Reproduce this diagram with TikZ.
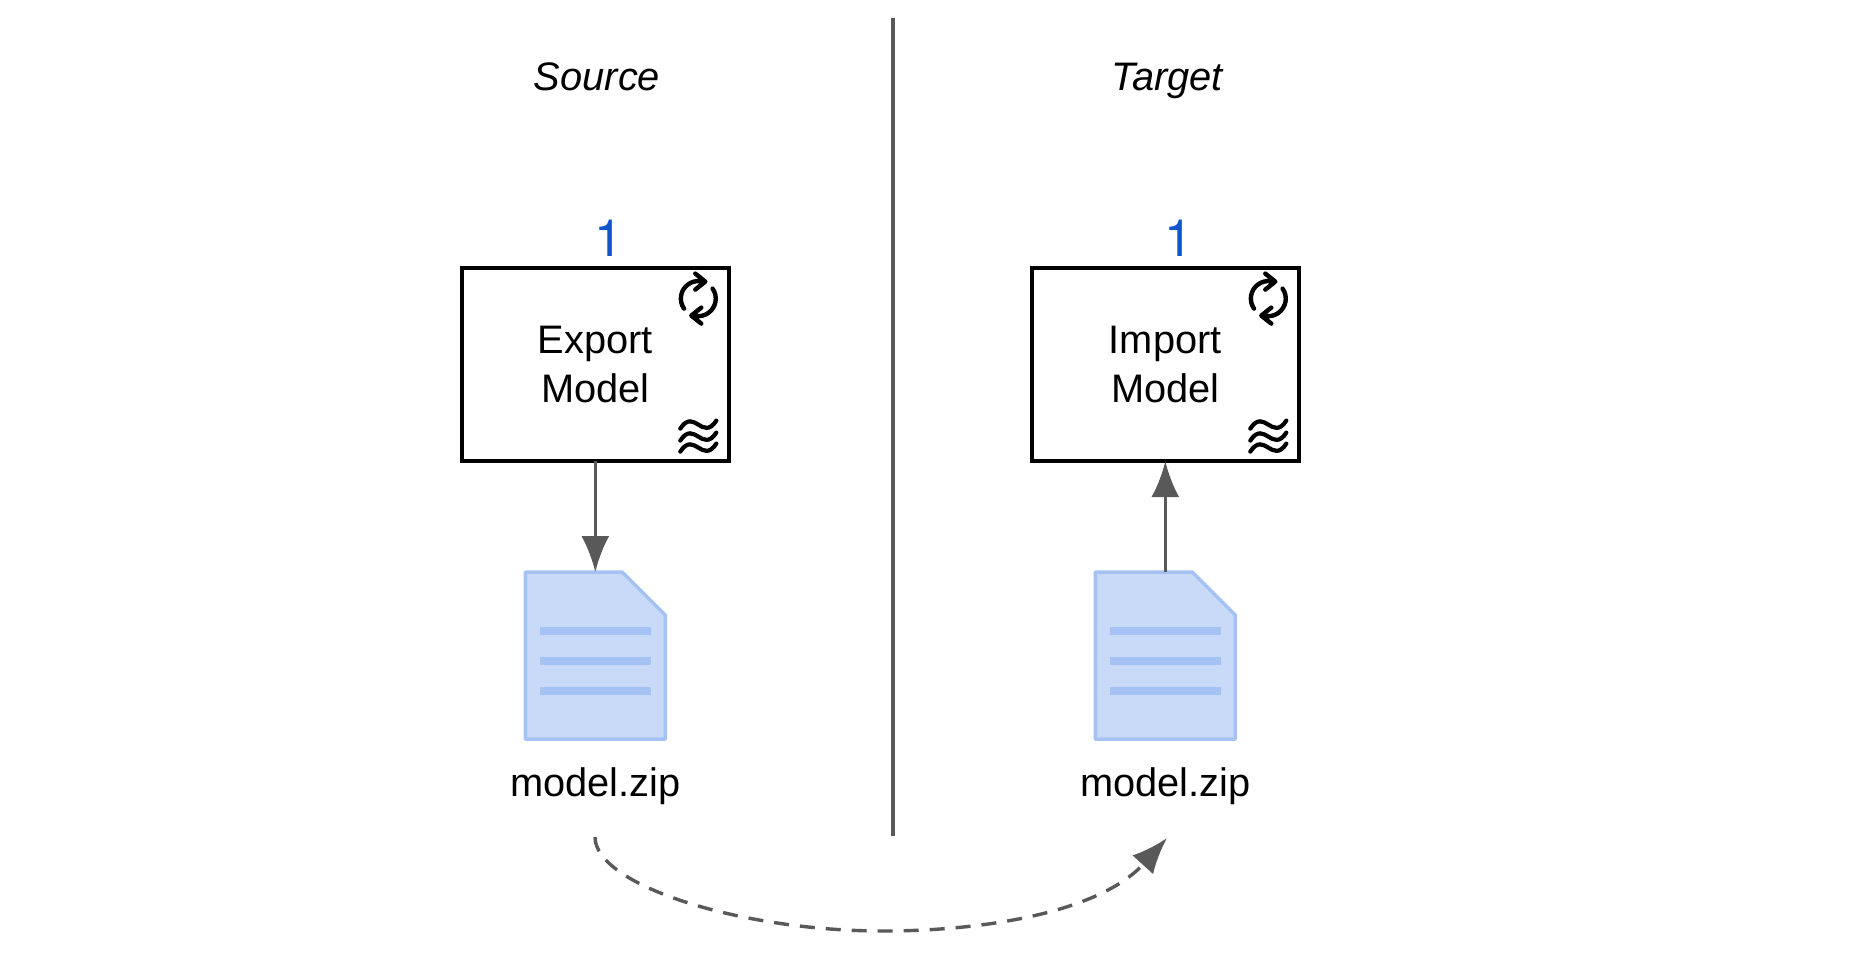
\documentclass[tikz,border=0pt]{standalone}
\usepackage{fontspec}
\setmainfont{Liberation Sans}
\newfontfamily\countfont{TeX Gyre Heros}
\usepackage{tikz}
\usetikzlibrary{arrows.meta, positioning}

\definecolor{darkline}{HTML}{595959}
\definecolor{sheetfill}{HTML}{C9DAF8}
\definecolor{sheetline}{HTML}{A4C2F4}
\definecolor{countblue}{HTML}{1155CC}

\tikzset{
    taskbox/.style = {draw, line width = 1.7pt, fill = white, rectangle, align = center, outer sep = 0pt,
        minimum width = 133.5pt, minimum height = 96.5pt, inner sep = 0pt,
        font = \fontsize{19.9}{24.5}\selectfont},
    countlabel/.style = {text = countblue, inner sep = 0pt, xshift = 6.5pt, font = \fontsize{25.7}{30}\countfont},
    filebox/.style = {rectangle, outer sep = 0pt, inner sep = 0pt, minimum width = 70pt, minimum height = 83.5pt},
    filesheet/.style = {draw = sheetline, fill = sheetfill, line width = 1.7pt, line join = round},
    filerule/.style = {draw = sheetline, line width = 4pt},
    filename/.style = {inner sep = 0pt, font = \fontsize{19.9}{24}\selectfont},
    sidetitle/.style = {inner sep = 0pt, anchor = base, font = \fontsize{19.9}{24}\itshape},
    flowarrow/.style = {color = darkline, line width = 1.7pt, -{Latex[length = 18pt, width = 14pt]}},
    loopmark/.pic = {
        \draw[line width = 2.2pt, line cap = round, line join = round]
            (-14.3, 10) arc (145:275:17.5)
            (-3, -25) -- (7, -17) -- (-3, -9)
            (14.3, -10) arc (-35:95:17.5)
            (3, 9) -- (-7, 17) -- (3, 25);
    },
    wavemark/.pic = {
        \foreach \row in {-12, 0, 11}
            \draw[line width = 2.1pt, line cap = round]
                (-18, 4 + \row) .. controls (-11, -7 + \row) and (-5, -3 + \row) .. (0, \row)
                .. controls (5, 3 + \row) and (11, 7 + \row) .. (18, -4 + \row);
    }
}

\begin{document}
\begin{tikzpicture}[x = 0.5pt, y = -0.5pt]
    \useasboundingbox (0, 0) rectangle (1858, 960);

    \node (source) [sidetitle] at (597, 90) {Source};
    \node (target) [sidetitle] at (1167, 90) {Target};

    \coordinate (dividertop) at (893, 18);
    \coordinate (dividerend) at (893, 836);
    \draw[darkline, line width = 1.7pt] (dividertop) -- (dividerend);

    \node (export) [taskbox] at (595.3, 364.6) {Export\\Model};
    \node (exportcount) [countlabel, above = 5.5pt of export] {1};
    \node (exportfile) [filebox, below = 55.5pt of export] {};
    \node (exportname) [filename, below = 14pt of exportfile] {model.zip};

    \node (import) [taskbox] at (1165.3, 364.6) {Import\\Model};
    \node (importcount) [countlabel, above = 5.5pt of import] {1};
    \node (importfile) [filebox, below = 55.5pt of import] {};
    \node (importname) [filename, below = 14pt of importfile] {model.zip};

    \foreach \task in {export, import} {
        \path ([shift = {(103, -66)}]\task.center) pic {loopmark};
        \path ([shift = {(103, 72)}]\task.center) pic {wavemark};
    }

    \foreach \file in {exportfile, importfile} {
        \draw[filesheet] (\file.north west) -- ([xshift = -21.5pt]\file.north east)
            -- ([yshift = -21.5pt]\file.north east) -- (\file.south east)
            -- (\file.south west) -- cycle;
        \foreach \row in {-24.5, 5.5, 35.5}
            \draw[filerule] ([shift = {(-55, \row)}]\file.center) -- ([shift = {(56, \row)}]\file.center);
    }

    \path[flowarrow]
    (export) edge (exportfile)
    (importfile) edge (import);

    \coordinate (copystart) at (595, 837);
    \coordinate (copylow) at (883, 931);
    \coordinate (copyend) at (1167, 838);
    \draw[color = darkline, line width = 1.7pt, dash pattern = on 7.5pt off 5.5pt, -{Latex[length = 18pt, width = 14pt]}]
        (copystart) .. controls (595, 885) and (740, 931) .. (copylow)
        .. controls (985, 931) and (1100, 912) .. (copyend);
\end{tikzpicture}
\end{document}
